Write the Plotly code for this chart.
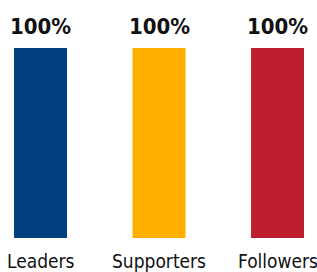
import plotly.graph_objects as go

categories = ["Leaders", "Supporters", "Followers"]
values = [100, 100, 100]
value_labels = ["100%", "100%", "100%"]
colors = ["#003f7d", "#fdb000", "#be1e2d"]

xpos = list(range(len(categories)))
FONT = "DejaVu Sans Condensed, Liberation Sans Narrow, Roboto Condensed, DejaVu Sans"

fig = go.Figure()
fig.add_trace(go.Bar(
    x=xpos, y=values, width=0.447,
    marker=dict(color=colors, line=dict(width=0)),
    hoverinfo="skip",
))

for x, v, t in zip(xpos, values, value_labels):
    fig.add_annotation(
        x=x, y=v, text=t, showarrow=False, yanchor="bottom", yshift=7,
        font=dict(family=FONT, size=22, color="#111111", weight="bold"),
    )

for x, c in zip(xpos, categories):
    fig.add_annotation(
        x=x, y=0, text=c, showarrow=False, yanchor="top", yshift=-10,
        font=dict(family=FONT, size=19, color="#111111"),
    )

fig.update_layout(
    width=317, height=272,
    margin=dict(l=0, r=0, t=48, b=34, autoexpand=False),
    paper_bgcolor="white", plot_bgcolor="white",
    showlegend=False,
    xaxis=dict(
        range=[-0.342, 2.333], visible=False, automargin=False,
        fixedrange=True,
    ),
    yaxis=dict(
        range=[0, 100], visible=False, automargin=False, fixedrange=True,
    ),
)

fig.write_html(
    "out.html",
    config={"displayModeBar": False},
    post_script="document.body.style.margin='0px';document.body.style.overflow='hidden';",
)
